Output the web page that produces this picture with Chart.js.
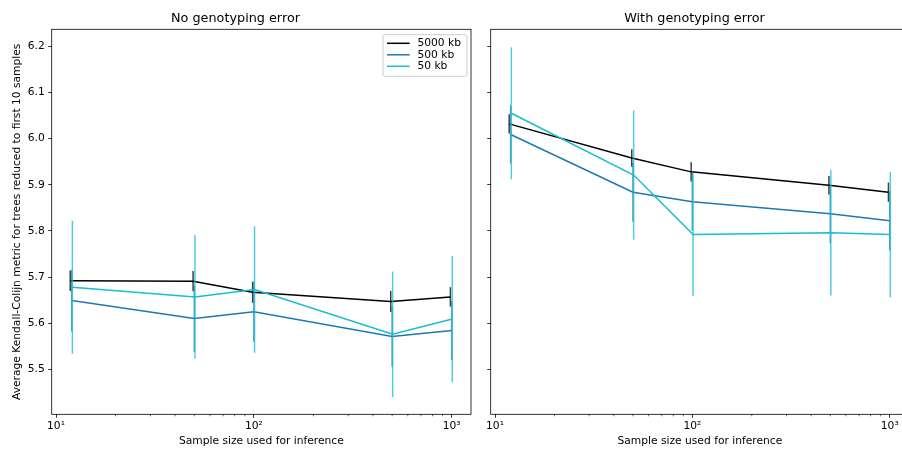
<!DOCTYPE html>
<html>
<head>
<meta charset="utf-8">
<script src="https://cdn.jsdelivr.net/npm/chart.js@4.4.1/dist/chart.umd.min.js"></script>
<style>
  body { margin: 0; background: #fff; overflow: hidden; }
  #wrap { position: relative; width: 902px; height: 454px; overflow: hidden; }
  #left { position: absolute; left: 0; top: 0; }
  #right { position: absolute; left: 480px; top: 0; }
</style>
</head>
<body>
<div id="wrap">
  <canvas id="left" width="480" height="454"></canvas>
  <canvas id="right" width="440" height="454"></canvas>
</div>
<script>
// sample sizes, slightly dodged per series
const xBlack = [11.8, 49.3, 98.6, 492, 985];
const xBlue = [12, 50, 100, 500, 1000];
const xCyan = [12.1, 50.4, 100.8, 503, 1007];

const seriesLabels = ["5000 kb", "500 kb", "50 kb"];
const seriesColors = ["#000000", "#1f77b4", "#17becf"];
const errColors = ["rgba(0,0,0,0.75)", "rgba(31,119,180,0.75)", "rgba(23,190,207,0.75)"];

// No genotyping error
const noErr5000 = [5.692, 5.691, 5.667, 5.647, 5.657];
const noErr5000Err = [0.022, 0.022, 0.023, 0.023, 0.021];
const noErr500 = [5.649, 5.610, 5.625, 5.571, 5.584];
const noErr500Err = [0.067, 0.072, 0.065, 0.065, 0.064];
const noErr50 = [5.678, 5.657, 5.673, 5.576, 5.609];
const noErr50Err = [0.144, 0.134, 0.137, 0.136, 0.137];

// With genotyping error
const withErr5000 = [6.032, 5.958, 5.928, 5.899, 5.884];
const withErr5000Err = [0.021, 0.019, 0.021, 0.020, 0.021];
const withErr500 = [6.009, 5.884, 5.863, 5.837, 5.822];
const withErr500Err = [0.063, 0.064, 0.063, 0.064, 0.064];
const withErr50 = [6.055, 5.921, 5.792, 5.796, 5.792];
const withErr50Err = [0.143, 0.140, 0.133, 0.136, 0.136];

const xTicks = [10, 20, 30, 40, 50, 60, 70, 80, 90, 100, 200, 300, 400, 500, 600, 700, 800, 900, 1000];
const xTickLabels = { 10: "10\u00b9", 100: "10\u00b2", 1000: "10\u00b3" };
const yTicks = [5.5, 5.6, 5.7, 5.8, 5.9, 6.0, 6.1, 6.2];

Chart.defaults.font.family = "'DejaVu Sans', sans-serif";
Chart.defaults.font.size = 10.7;
Chart.defaults.color = "#000";

// vertical error bars, drawn under each series' line
const errorBars = {
  id: "errorBars",
  beforeDatasetDraw(chart, args) {
    const ds = chart.data.datasets[args.index];
    const xs = chart.scales.x, ys = chart.scales.y;
    const ctx = chart.ctx;
    ctx.save();
    ctx.strokeStyle = ds.errColor;
    ctx.lineWidth = 1.5;
    ds.data.forEach((p, i) => {
      const px = xs.getPixelForValue(p.x);
      ctx.beginPath();
      ctx.moveTo(px, ys.getPixelForValue(p.y - ds.err[i]));
      ctx.lineTo(px, ys.getPixelForValue(p.y + ds.err[i]));
      ctx.stroke();
    });
    ctx.restore();
  }
};

// full frame + minor ticks on the log axis
const frame = {
  id: "frame",
  afterDraw(chart) {
    const { ctx, chartArea } = chart;
    const xs = chart.scales.x;
    ctx.save();
    ctx.strokeStyle = "#000";
    ctx.lineWidth = 0.8;
    ctx.strokeRect(chartArea.left, chartArea.top, chartArea.right - chartArea.left, chartArea.bottom - chartArea.top);
    ctx.lineWidth = 0.6;
    xTicks.filter(v => !xTickLabels[v]).forEach(v => {
      const px = xs.getPixelForValue(v);
      ctx.beginPath();
      ctx.moveTo(px, chartArea.bottom);
      ctx.lineTo(px, chartArea.bottom + 2);
      ctx.stroke();
    });
    ctx.restore();
  }
};

// legend box inside the plot, upper right
const boxLegend = {
  id: "boxLegend",
  afterDraw(chart) {
    const { ctx, chartArea } = chart;
    const right = chartArea.right - 4, top = chartArea.top + 5.4;
    const w = 84, h = 41.6, left = right - w;
    ctx.save();
    ctx.beginPath();
    ctx.roundRect(left, top, w, h, 2);
    ctx.fillStyle = "rgba(255,255,255,0.8)";
    ctx.fill();
    ctx.strokeStyle = "#cccccc";
    ctx.lineWidth = 1;
    ctx.stroke();
    ctx.font = "10.7px 'DejaVu Sans'";
    ctx.textBaseline = "middle";
    chart.data.datasets.forEach((ds, i) => {
      const y = top + 8.6 + i * 11.5;
      ctx.strokeStyle = ds.borderColor;
      ctx.lineWidth = 1.5;
      ctx.beginPath();
      ctx.moveTo(left + 4, y);
      ctx.lineTo(left + 26.7, y);
      ctx.stroke();
      ctx.fillStyle = "#000";
      ctx.fillText(ds.label, left + 34.4, y);
    });
    ctx.restore();
  }
};

function makeDatasets(means, errs) {
  const xsList = [xBlack, xBlue, xCyan];
  return means.map((m, s) => ({
    label: seriesLabels[s],
    data: m.map((y, i) => ({ x: xsList[s][i], y: y })),
    err: errs[s],
    errColor: errColors[s],
    borderColor: seriesColors[s],
    borderWidth: 1.5,
    pointRadius: 0,
    fill: false,
    tension: 0,
    order: 3 - s
  }));
}

function makeChart(id, title, datasets, isLeft) {
  return new Chart(document.getElementById(id), {
    type: "line",
    data: { datasets: datasets },
    plugins: isLeft ? [errorBars, frame, boxLegend] : [errorBars, frame],
    options: {
      responsive: false,
      animation: false,
      devicePixelRatio: 1,
      layout: { padding: { left: 0, top: 0, bottom: 0, right: isLeft ? 9 : 11 } },
      plugins: {
        legend: { display: false },
        tooltip: { enabled: false },
        title: {
          display: true,
          text: title,
          color: "#000",
          font: { size: 12.8, weight: "normal" },
          padding: { top: 11, bottom: 2.94 }
        }
      },
      scales: {
        x: {
          type: "logarithmic",
          min: 9.51,
          max: 1252,
          afterBuildTicks: s => { s.ticks = xTicks.map(v => ({ value: v })); },
          afterFit: s => { s.height = 39.7; },
          ticks: {
            autoSkip: false,
            maxRotation: 0,
            padding: 2,
            color: "#000",
            callback: v => xTickLabels[v] || ""
          },
          grid: {
            drawOnChartArea: false,
            drawTicks: true,
            tickLength: 3.5,
            tickWidth: 0.8,
            tickColor: c => (c.tick && xTickLabels[c.tick.value]) ? "#000" : "rgba(0,0,0,0)"
          },
          border: { display: false },
          title: {
            display: true,
            text: "Sample size used for inference",
            color: "#000",
            padding: { top: 0, bottom: 6.6 }
          }
        },
        y: {
          type: "linear",
          min: 5.4025,
          max: 6.237,
          afterBuildTicks: s => { s.ticks = yTicks.map(v => ({ value: v })); },
          afterFit: s => { s.width = isLeft ? 51.7 : 10.7; },
          ticks: {
            padding: 3.5,
            color: "#000",
            callback: v => isLeft ? v.toFixed(1) : ""
          },
          grid: {
            drawOnChartArea: false,
            drawTicks: true,
            tickLength: 3.5,
            tickWidth: 0.8,
            tickColor: "#000"
          },
          border: { display: false },
          title: {
            display: isLeft,
            text: "Average Kendall-Colijn metric for trees reduced to first 10 samples",
            color: "#000",
            padding: { top: 11.1, bottom: 0 }
          }
        }
      }
    }
  });
}

makeChart("left", "No genotyping error",
  makeDatasets([noErr5000, noErr500, noErr50], [noErr5000Err, noErr500Err, noErr50Err]), true);
makeChart("right", "With genotyping error",
  makeDatasets([withErr5000, withErr500, withErr50], [withErr5000Err, withErr500Err, withErr50Err]), false);
</script>
</body>
</html>
